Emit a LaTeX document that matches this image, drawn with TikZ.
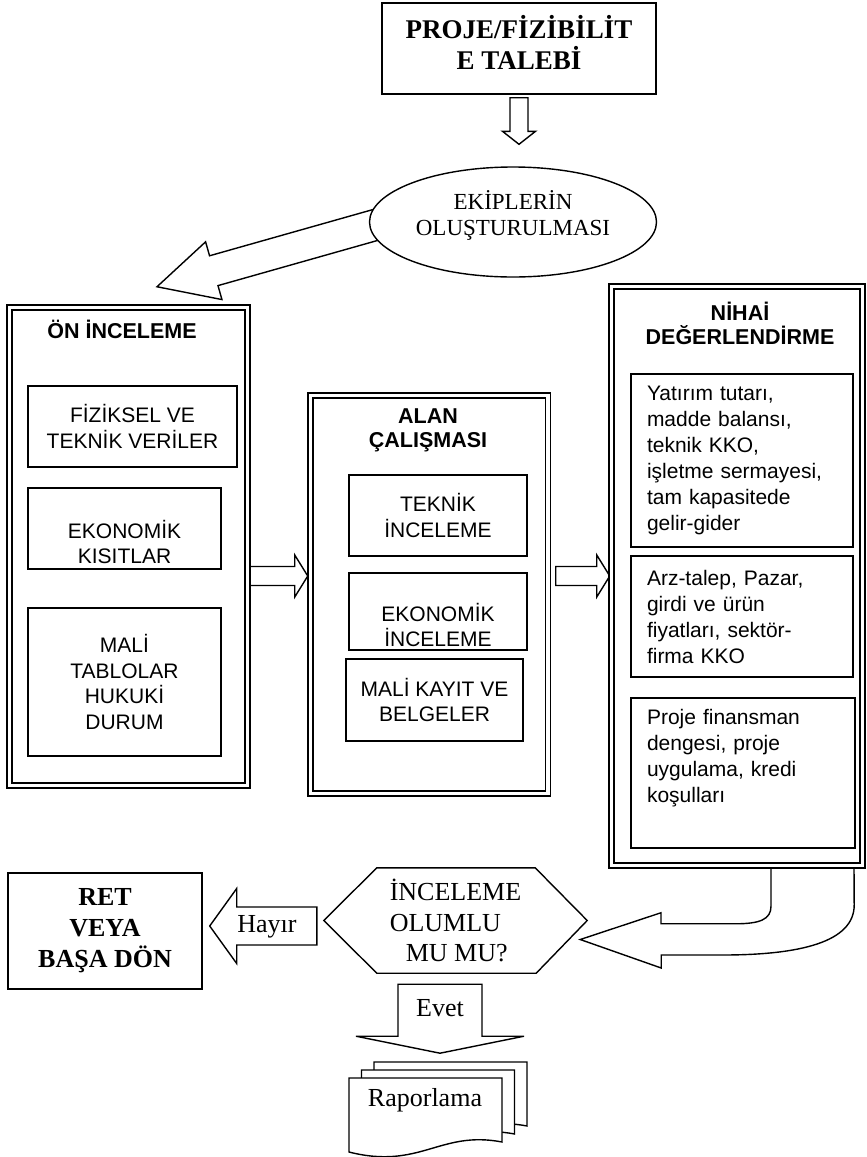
\documentclass[tikz,border=0pt]{standalone}
\usepackage{fontspec}
\setmainfont{Liberation Serif}
\newfontfamily\arialfont{Liberation Sans}
\usetikzlibrary{calc,backgrounds,shapes.geometric}

\tikzset{
	every node/.style={inner sep=0pt},
	framebox/.style={draw, line width=1.5pt, double, double distance=3.5pt},
	itembox/.style={draw, line width=1.4pt, align=center, font=\arialfont\fontsize{21}{25.5}\selectfont},
	listbox/.style={draw, line width=1.4pt, align=left, inner xsep=16pt, text width=190pt, font=\arialfont\fontsize{21}{26}\selectfont},
	framehead/.style={align=center, font=\arialfont\bfseries\fontsize{21.5}{24}\selectfont},
	serifbox/.style={draw, line width=1.4pt, align=center, font=\bfseries\fontsize{26}{31}\selectfont},
	plaintext/.style={align=center, font=\fontsize{26}{30.5}\selectfont},
	fatline/.style={draw, line width=1.4pt, fill=white, line join=miter},
}

% block arrow: tail, tip, half shaft, half head, head length
\newcommand{\fatarrow}[5]{%
	\draw[fatline] let \p1=($(#2)-(#1)$), \n1={atan2(\y1,\x1)} in
		($(#1)+(\n1+90:#3pt)$) -- ($(#2)+(\n1+180:#5pt)+(\n1+90:#3pt)$)
		-- ($(#2)+(\n1+180:#5pt)+(\n1+90:#4pt)$) -- (#2)
		-- ($(#2)+(\n1+180:#5pt)+(\n1-90:#4pt)$) -- ($(#2)+(\n1+180:#5pt)+(\n1-90:#3pt)$)
		-- ($(#1)+(\n1-90:#3pt)$) -- cycle;}

\newcommand{\docsheet}[1]{%
	\draw[fatline, shift={#1}] (349,1078) -- (502,1078) -- (502,1142)
		.. controls (440,1130) and (420,1170) .. (349,1152) -- cycle;}

\begin{document}
\begin{tikzpicture}[x=1pt, y=-1pt]
	\useasboundingbox (0,0) rectangle (867,1157);
	\node[serifbox, font=\bfseries\fontsize{27}{31}\selectfont, text depth=12pt, minimum width=274pt, minimum height=91pt] (talep) at (519,48.5) {PROJE/FİZİBİLİT\\E TALEBİ};
	\node[draw, ellipse, line width=1.4pt, fill=white, minimum width=287pt, minimum height=110pt, align=center, text depth=18pt, font=\fontsize{23}{26}\selectfont] (ekip) at (513,222) {EKİPLERİN\\OLUŞTURULMASI};

	\node[framebox, minimum width=238pt, minimum height=478pt] (on) at (128.5,546.5) {};
	\node[framehead] (ontitle) at (122,329) {ÖN İNCELEME};
	\node[itembox, minimum width=209pt, minimum height=81pt] (fiziksel) at (132.5,426.5) {FİZİKSEL VE\\TEKNİK VERİLER};
	\node[itembox, minimum width=193pt, minimum height=81pt] (kisit) at (124.5,528.5) {\strut\\EKONOMİK\\KISITLAR};
	\node[itembox, minimum width=193pt, minimum height=148pt] (malitablo) at (124.5,682) {MALİ\\TABLOLAR\\HUKUKİ\\DURUM};

	\node[framebox, minimum width=237.5pt, minimum height=398pt] (alan) at (429.25,594.5) {};
	\node[framehead] (alantitle) at (428,430.5) {ALAN\\ÇALIŞMASI};
	\node[itembox, minimum width=178pt, minimum height=81pt] (teknik) at (438,515.5) {TEKNİK\\İNCELEME};
	\node[itembox, minimum width=178pt, minimum height=77pt] (ekonomik) at (438,611.5) {\strut\\EKONOMİK\\İNCELEME};
	\node[itembox, minimum width=177pt, minimum height=82pt] (kayit) at (434.5,700) {MALİ KAYIT VE\\BELGELER};

	\node[framebox, minimum width=251pt, minimum height=579pt] (nihai) at (737,576) {};
	\node[framehead] (nihaititle) at (740,323.5) {NİHAİ\\DEĞERLENDİRME};
	\node[listbox, minimum height=173pt] (yatirim) at (742,460.5) {Yatırım tutarı,\\madde balansı,\\teknik KKO,\\işletme sermayesi,\\tam kapasitede\\gelir-gider};
	\node[listbox, minimum height=121pt] (pazar) at (742,616.5) {Arz-talep, Pazar,\\girdi ve ürün\\fiyatları, sektör-\\firma KKO};
	\node[listbox, text width=192pt, minimum height=150pt] (finans) at (743,773) {Proje finansman\\dengesi, proje\\uygulama, kredi\\koşulları\\\strut};

	\node[serifbox, minimum width=194pt, minimum height=116pt] (ret) at (105,931) {RET\\VEYA\\BAŞA DÖN};
	\node[plaintext, align=left, minimum width=263pt, minimum height=105pt] (karar) at (455.5,920.5) {İNCELEME\\OLUMLU\\\hspace*{16pt}MU MU?};
	\draw[line width=1.4pt, line join=miter] (karar.west) -- ($(karar.north west)+(53,0)$) -- ($(karar.north east)+(-52,0)$) -- (karar.east) -- ($(karar.south east)+(-51,0)$) -- ($(karar.south west)+(53,0)$) -- cycle;

	\coordinate (row) at (0,576);
	\coordinate (t1) at ($(talep.south)+(0,3)$);
	\coordinate (t2) at ($(ekip.north)+(6,-22)$);
	\coordinate (d1) at ($(ekip.west)+(10,2)$);
	\coordinate (d2) at ($(on.north)+(28.5,-20)$);
	\coordinate (a1) at (on.east |- row);
	\coordinate (a2) at ($(alan.west |- row)+(-2,0)$);
	\coordinate (b1) at ($(alan.east |- row)+(7,0)$);
	\coordinate (b2) at ($(nihai.west |- row)+(-1,0)$);
	\coordinate (h1) at ($(karar.west)+(-7,5.5)$);
	\coordinate (h2) at ($(ret.east)+(7,-5)$);
	\coordinate (e1) at ($(karar.south)+(-15.5,11)$);
	\coordinate (e2) at ($(e1)+(0,69)$);
	\coordinate (u1) at ($(nihai.south)+(34,0)$);
	\coordinate (u2) at ($(nihai.south)+(117,0)$);
	\coordinate (utip) at ($(karar.east)+(-7,19)$);

	\begin{scope}[on background layer]
		\fatarrow{t1}{t2}{9}{16.5}{13}
		\fatarrow{d1}{d2}{15.5}{30}{59}
		\fatarrow{a1}{a2}{9.5}{21}{13}
		\fatarrow{b1}{b2}{9.5}{21}{13}
		\fatarrow{h1}{h2}{19}{37.5}{27}
		\fatarrow{e1}{e2}{42}{84}{17}
		\draw[fatline] (u1) -- ++(0,40) .. controls +(0,13) and +(24,0) .. ++(-35,17.5) -- ++(-75,0) -- ++(0,-11) -- (utip) -- ++(81,28.5) -- ++(0,-13) -- ++(61,0) .. controls +(78,0) and +(0,37) .. ++(132,-50) -- (u2) -- cycle;
	\end{scope}
	\node[plaintext] (hayir) at (267,926.5) {Hayır};
	\node[plaintext] (evet) at (440,1008) {Evet};

	\docsheet{(25,-16)}
	\docsheet{(12.5,-8)}
	\docsheet{(0,0)}
	\node[plaintext] (rapor) at (425,1100) {Raporlama};
\end{tikzpicture}
\end{document}
